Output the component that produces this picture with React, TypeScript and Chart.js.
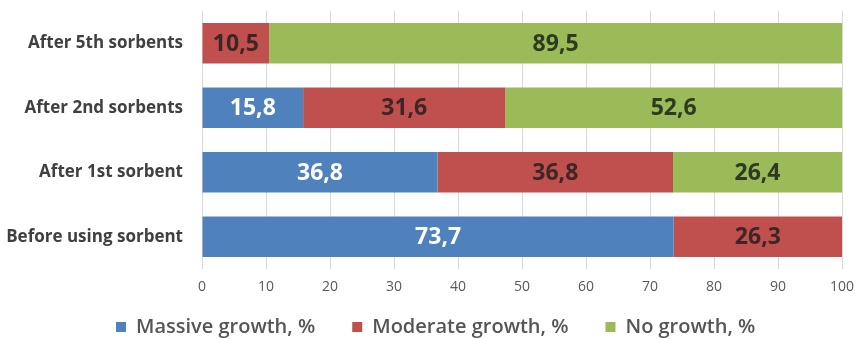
import React, { useEffect, useRef } from "react";
import { Chart, registerables } from "chart.js";

Chart.register(...registerables);

const categories = ["After 5th sorbents", "After 2nd sorbents", "After 1st sorbent", "Before using sorbent"];
const massive = [0, 15.8, 36.8, 73.7];
const moderate = [10.5, 31.6, 36.8, 26.3];
const noGrowth = [89.5, 52.6, 26.4, 0];
const seriesNames = ["Massive growth, %", "Moderate growth, %", "No growth, %"];
const xTicks = [0, 10, 20, 30, 40, 50, 60, 70, 80, 90, 100];

const colors = ["#4f81bd", "#c0504d", "#9bbb59"];
const labelColors = ["#ffffff", "#3d2626", "#2e3a24"];

const dataLabelPlugin = {
  id: "dataLabels",
  afterDatasetsDraw(chart: any) {
    const ctx = chart.ctx;
    ctx.save();
    ctx.font = "bold 23px 'Open Sans'";
    ctx.textAlign = "center";
    ctx.textBaseline = "middle";
    chart.data.datasets.forEach((ds: any, di: number) => {
      const meta = chart.getDatasetMeta(di);
      meta.data.forEach((el: any, i: number) => {
        const v = ds.data[i];
        if (!v) return;
        const { x, y, base } = el.getProps(["x", "y", "base"], true);
        ctx.fillStyle = labelColors[di];
        ctx.fillText(v.toFixed(1).replace(".", ","), (x + base) / 2, y + 1);
      });
    });
    ctx.restore();
  },
};

const legendPlugin = {
  id: "customLegend",
  afterDraw(chart: any) {
    const ctx = chart.ctx;
    ctx.save();
    ctx.font = "600 20px 'Open Sans'";
    ctx.textBaseline = "middle";
    ctx.textAlign = "left";
    const cy = 327;
    const box = 10;
    const gapBoxText = 10;
    const gapItems = 37;
    let x = 116;
    chart.data.datasets.forEach((ds: any) => {
      ctx.fillStyle = ds.backgroundColor;
      ctx.fillRect(x, cy - box / 2, box, box);
      x += box + gapBoxText;
      ctx.fillStyle = "#555555";
      ctx.fillText(ds.label, x, cy);
      x += ctx.measureText(ds.label).width + gapItems;
    });
    ctx.restore();
  },
};

export default function App() {
  const ref = useRef<HTMLCanvasElement>(null);
  useEffect(() => {
    const chart = new Chart(ref.current!, {
      type: "bar",
      data: {
        labels: categories,
        datasets: [massive, moderate, noGrowth].map((d, i) => ({
          label: seriesNames[i],
          data: d,
          backgroundColor: colors[i],
          borderWidth: 0,
          barPercentage: 0.625,
          categoryPercentage: 1,
        })),
      },
      options: {
        indexAxis: "y",
        responsive: false,
        animation: false,
        layout: { padding: { left: 0, right: 14, top: 11, bottom: 34 } },
        scales: {
          x: {
            stacked: true,
            min: 0,
            max: 100,
            afterBuildTicks: (s: any) => {
              s.ticks = xTicks.map((v) => ({ value: v }));
            },
            afterFit: (s: any) => {
              s.height = 36;
              s.paddingLeft = 0;
              s.paddingRight = 0;
            },
            grid: { color: "#d9d9d9", drawTicks: false },
            border: { display: false },
            ticks: { color: "#595959", font: { family: "'Open Sans'", size: 14 }, padding: 10, maxRotation: 0 },
          },
          y: {
            stacked: true,
            grid: { display: false, drawTicks: false },
            border: { display: false },
            ticks: { color: "#404040", font: { family: "'Open Sans'", size: 17, weight: "bold" }, padding: 19 },
            afterFit: (s: any) => {
              s.width = 202;
              s.paddingTop = 0;
              s.paddingBottom = 0;
            },
          },
        },
        plugins: {
          legend: { display: false },
          tooltip: { enabled: false },
        },
      },
      plugins: [dataLabelPlugin, legendPlugin],
    } as any);
    return () => chart.destroy();
  }, []);
  return (
    <div style={{ position: "fixed", left: 0, top: 0, width: 856, height: 339, background: "#fff" }}>
      <canvas ref={ref} width={856} height={339} />
    </div>
  );
}
